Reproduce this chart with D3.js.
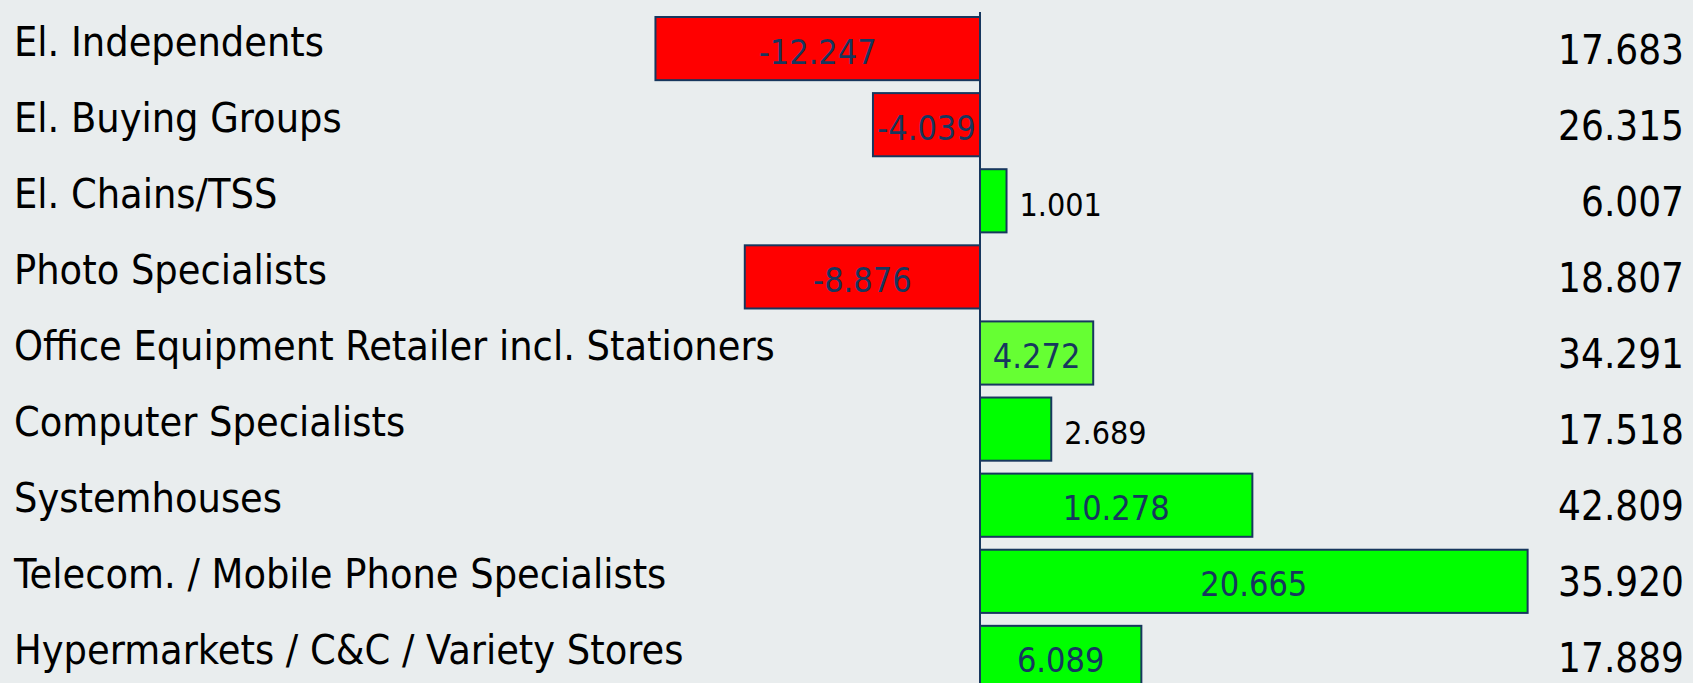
<!DOCTYPE html>
<html>
<head>
<meta charset="utf-8">
<script src="https://cdn.jsdelivr.net/npm/d3@7"></script>
<style>
  html, body { margin: 0; padding: 0; background: #e9edee; }
  svg { display: block; }
</style>
</head>
<body>
<svg id="chart" width="1693" height="683"></svg>
<script>
const categories = [
  "El. Independents",
  "El. Buying Groups",
  "El. Chains/TSS",
  "Photo Specialists",
  "Office Equipment Retailer incl. Stationers",
  "Computer Specialists",
  "Systemhouses",
  "Telecom. / Mobile Phone Specialists",
  "Hypermarkets / C&C / Variety Stores"
];
const changes = [-12.247, -4.039, 1.001, -8.876, 4.272, 2.689, 10.278, 20.665, 6.089];
const totals = ["17.683", "26.315", "6.007", "18.807", "34.291", "17.518", "42.809", "35.920", "17.889"];

const fmt = v => v.toFixed(3);

const W = 1693, H = 683;
const svg = d3.select("#chart");
svg.append("rect").attr("width", W).attr("height", H).attr("fill", "#e9edee");

const x = d3.scaleLinear().domain([-14, 22]).range([609, 1563]);
const y = d3.scaleBand().domain(categories).range([17, 689]).paddingInner(0.17).paddingOuter(0);

const navy = "#17375e";
const fillFor = (c, v) => v < 0 ? "#ff0000" : (c === "Office Equipment Retailer incl. Stationers" ? "#66ff33" : "#00ff00");

const rows = categories.map((c, i) => ({ c, v: changes[i], t: totals[i] }));

// bars
svg.append("g").selectAll("rect").data(rows).join("rect")
  .attr("x", d => x(Math.min(0, d.v)))
  .attr("y", d => y(d.c))
  .attr("width", d => Math.abs(x(d.v) - x(0)))
  .attr("height", y.bandwidth())
  .attr("fill", d => fillFor(d.c, d.v))
  .attr("stroke", navy)
  .attr("stroke-width", 2);

// zero axis line
svg.append("line")
  .attr("x1", x(0)).attr("x2", x(0))
  .attr("y1", 12).attr("y2", H)
  .attr("stroke", navy).attr("stroke-width", 2);

const cy = d => y(d.c) + y.bandwidth() / 2;

// category labels
svg.append("g").selectAll("text").data(rows).join("text")
  .attr("x", 14)
  .attr("y", d => cy(d) - 8 + 15)
  .attr("font-family", "'DejaVu Sans Condensed', 'DejaVu Sans', sans-serif")
  .attr("font-stretch", "condensed")
  .attr("font-size", 41)
  .attr("fill", "#000")
  .text(d => d.c);

// value labels
svg.append("g").selectAll("text").data(rows).join("text")
  .each(function (d) {
    const w = Math.abs(x(d.v) - x(0));
    const inside = w > 90;
    const t = d3.select(this);
    if (inside) {
      t.attr("x", (x(d.v) + x(0)) / 2).attr("text-anchor", "middle");
    } else {
      t.attr("x", x(Math.max(0, d.v)) + 13).attr("text-anchor", "start");
    }
    t.attr("fill", Math.abs(d.v) < 3 ? "#000" : navy)
     .attr("font-size", inside ? 34 : 32);
  })
  .attr("y", d => cy(d) + 15)
  .attr("font-family", "'DejaVu Sans Condensed', 'DejaVu Sans', sans-serif")
  .attr("font-stretch", "condensed")
  .text(d => fmt(d.v));

// totals on right
svg.append("g").selectAll("text").data(rows).join("text")
  .attr("x", 1684)
  .attr("y", d => cy(d) + 15)
  .attr("text-anchor", "end")
  .attr("font-family", "'DejaVu Sans Condensed', 'DejaVu Sans', sans-serif")
  .attr("font-stretch", "condensed")
  .attr("font-size", 40)
  .attr("fill", "#000")
  .text(d => d.t);
</script>
</body>
</html>
